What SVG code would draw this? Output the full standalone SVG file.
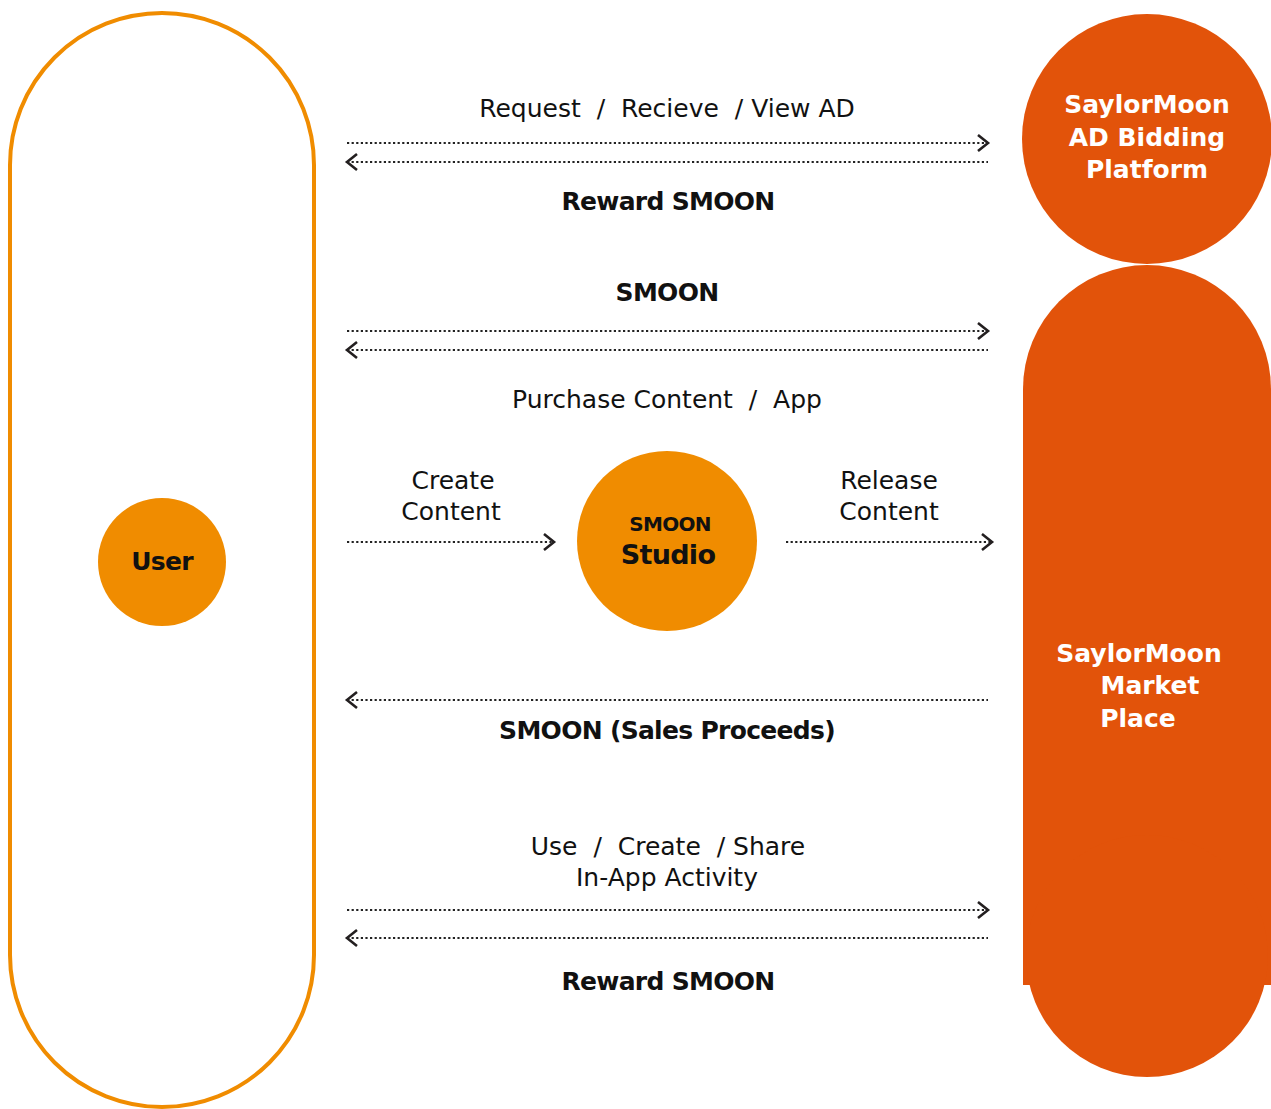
<svg xmlns="http://www.w3.org/2000/svg" width="1271" height="1109" viewBox="0 0 1271 1109">
<defs>
<marker id="ah" markerWidth="16" markerHeight="20" refX="13" refY="10" orient="auto-start-reverse" markerUnits="userSpaceOnUse">
<path d="M3,2 L13,10 L3,18" fill="none" stroke="#231f20" stroke-width="2.6"/>
</marker>
<style>
.t{font-family:"DejaVu Sans",Verdana,sans-serif;font-size:25px;fill:#111;text-anchor:middle}
.b{font-weight:bold;letter-spacing:-0.7px}
.w{fill:#fff;font-weight:bold}
.c{fill:none;stroke:#222;stroke-width:2.2;stroke-dasharray:2.2 2.4}
</style>
</defs>
<rect width="1271" height="1109" fill="#fff"/>
<g id="user-lane"><rect x="10" y="13" width="304" height="1094" rx="152" ry="152" fill="none" stroke="#F08C00" stroke-width="4"/></g>
<g id="user"><circle cx="162" cy="562" r="64" fill="#F08C00"/><text class="t b" x="162" y="570" font-size="26">User</text></g>
<g id="studio"><circle cx="667" cy="541" r="90" fill="#F08C00"/>
<text class="t b" x="670" y="531" style="font-size:20px">SMOON</text>
<text class="t b" x="668" y="564" style="font-size:27px">Studio</text></g>
<g id="ad-platform"><circle cx="1147" cy="139" r="125" fill="#E2530A"/>
<text class="t w" x="1147" y="113">SaylorMoon</text>
<text class="t w" x="1147" y="146">AD Bidding</text>
<text class="t w" x="1147" y="178">Platform</text></g>
<g id="marketplace"><path d="M1023,389 A124,124 0 0 1 1271,389 L1271,985 L1023,985 Z" fill="#E2530A"/>
<circle cx="1147" cy="956" r="121" fill="#E2530A"/>
<text class="t w" x="1139" y="662">SaylorMoon</text>
<text class="t w" x="1150" y="694">Market</text>
<text class="t w" x="1138" y="727">Place</text></g>
<g id="connectors">
<line class="c" x1="347" y1="143" x2="988" y2="143" marker-end="url(#ah)"/>
<line class="c" x1="347" y1="162" x2="988" y2="162" marker-start="url(#ah)"/>
<line class="c" x1="347" y1="331" x2="988" y2="331" marker-end="url(#ah)"/>
<line class="c" x1="347" y1="350" x2="988" y2="350" marker-start="url(#ah)"/>
<line class="c" x1="347" y1="542" x2="554" y2="542" marker-end="url(#ah)"/>
<line class="c" x1="786" y1="542" x2="992" y2="542" marker-end="url(#ah)"/>
<line class="c" x1="347" y1="700" x2="988" y2="700" marker-start="url(#ah)"/>
<line class="c" x1="347" y1="910" x2="988" y2="910" marker-end="url(#ah)"/>
<line class="c" x1="347" y1="938" x2="988" y2="938" marker-start="url(#ah)"/>
</g>
<g id="labels">
<text class="t" x="667" y="117" xml:space="preserve">Request  /  Recieve  / View AD</text>
<text class="t b" x="668" y="210">Reward SMOON</text>
<text class="t b" x="667" y="301">SMOON</text>
<text class="t" x="667" y="408" xml:space="preserve">Purchase Content  /  App</text>
<text class="t" x="453" y="489">Create</text>
<text class="t" x="451" y="520">Content</text>
<text class="t" x="889" y="489">Release</text>
<text class="t" x="889" y="520">Content</text>
<text class="t b" x="667" y="739">SMOON (Sales Proceeds)</text>
<text class="t" x="668" y="855" xml:space="preserve">Use  /  Create  / Share</text>
<text class="t" x="667" y="886">In-App Activity</text>
<text class="t b" x="668" y="990">Reward SMOON</text>
</g>
</svg>
